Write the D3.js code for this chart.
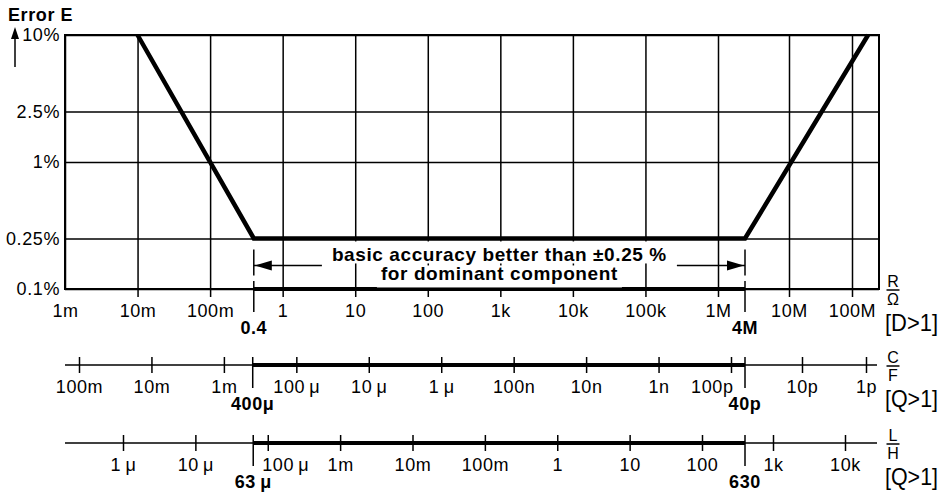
<!DOCTYPE html>
<html>
<head>
<meta charset="utf-8">
<script src="https://cdn.jsdelivr.net/npm/d3@7"></script>
<style>
  body { margin: 0; background: #fff; }
  svg text { font-family: "Liberation Sans", Arial, Helvetica, sans-serif; font-size: 18px; letter-spacing: 0.6px; fill: #000; }
  .bold { font-weight: bold; }
  .tick line { stroke: #000; stroke-width: 1.5; }
</style>
</head>
<body>
<div id="chart"></div>
<script>
// error axis (percent)
var errorTicks = [0.1, 0.25, 1, 2.5, 10];
var errorLabels = ["0.1%", "0.25%", "1%", "2.5%", "10%"];

// resistance axis (ohm)
var rTicks = [1e-3, 1e-2, 1e-1, 1, 10, 100, 1e3, 1e4, 1e5, 1e6, 1e7, 1e8];
var rLabels = ["1m", "10m", "100m", "1", "10", "100", "1k", "10k", "100k", "1M", "10M", "100M"];
var rRange = [0.4, 4e6];
var rRangeLabels = ["0.4", "4M"];

// error curve: R value -> error %
var curveR = [0.01, 0.4, 4e6, 1.8e8];
var curveE = [10, 0.25, 0.25, 10];

// capacitance axis (farad)
var cTicks = [1e-1, 1e-2, 1e-3, 1e-4, 1e-5, 1e-6, 1e-7, 1e-8, 1e-9, 1e-10, 1e-11, 1e-12];
var cLabels = ["100m", "10m", "1m", "100\u2009\u03bc", "10\u2009\u03bc", "1\u2009\u03bc", "100n", "10n", "1n", "100p", "10p", "1p"];
var cRange = [4e-4, 4e-11];
var cRangeLabels = ["400\u03bc", "40p"];

// inductance axis (henry)
var lTicks = [1e-6, 1e-5, 1e-4, 1e-3, 1e-2, 1e-1, 1, 10, 100, 1e3, 1e4];
var lLabels = ["1\u2009\u03bc", "10\u2009\u03bc", "100\u2009\u03bc", "1m", "10m", "100m", "1", "10", "100", "1k", "10k"];
var lRange = [6.3e-5, 630];
var lRangeLabels = ["63\u2009\u03bc", "630"];

var unitTop = ["R", "C", "L"];
var unitBottom = ["\u03a9", "F", "H"];
var unitCond = ["[D>1]", "[Q>1]", "[Q>1]"];

var width = 949, height = 502;
var plotL = 65, plotR = 879, plotT = 35, plotB = 289;
var cAxisY = 365, lAxisY = 443;

var svg = d3.select("#chart")
  .append("svg")
  .attr("width", width)
  .attr("height", height);

// the printed scales get squeezed above the upper limit, so piecewise log scales
var x = d3.scaleLog().domain([1e-3, 1e6, 4e6, 1e7, 1e8]).range([plotL, 718, 745, 789, 852]);
var y = d3.scaleLog().domain([0.1, 10]).range([plotB, plotT]);
var xC = d3.scaleLog().domain([1e-1, 1e-10, 4e-11, 1e-11, 1e-12]).range([79, 731, 745, 802, 866]);
var xL = d3.scaleLog().domain([1e-6, 100, 630, 1e3, 1e4]).range([123, 702, 745, 773, 845]);

// header
svg.append("text")
  .attr("class", "bold")
  .attr("x", 8)
  .attr("y", 21)
  .text("Error E");

svg.append("line")
  .attr("x1", 15).attr("x2", 15)
  .attr("y1", 67).attr("y2", 36)
  .attr("stroke", "#000").attr("stroke-width", 1.5);
svg.append("path")
  .attr("d", "M15,27 L19,39 L11,39 Z")
  .attr("fill", "#000");

// horizontal grid + error labels
svg.append("g")
  .attr("transform", "translate(" + plotL + ",0)")
  .call(d3.axisLeft(y)
    .tickValues(errorTicks)
    .tickFormat(function(d, i) { return errorLabels[i]; })
    .tickSize(-(plotR - plotL))
    .tickSizeOuter(0)
    .tickPadding(5))
  .call(function(g) { g.select(".domain").remove(); })
  .attr("font-size", null)
  .attr("font-family", null);

// vertical grid + R labels
svg.append("g")
  .attr("transform", "translate(0," + plotB + ")")
  .call(d3.axisBottom(x)
    .tickValues(rTicks)
    .tickFormat(function(d, i) { return rLabels[i]; })
    .tickSize(-(plotB - plotT))
    .tickSizeOuter(0))
  .call(function(g) { g.select(".domain").remove(); })
  .call(function(g) {
    g.selectAll(".tick line").attr("y1", function(d, i) { return i === 0 ? 0 : 8; });
    g.selectAll(".tick text").attr("y", 28).attr("dy", null);
  })
  .attr("font-size", null)
  .attr("font-family", null);

// frame
svg.append("rect")
  .attr("x", plotL).attr("y", plotT)
  .attr("width", plotR - plotL).attr("height", plotB - plotT)
  .attr("fill", "none")
  .attr("stroke", "#000")
  .attr("stroke-width", 2);

// range bar on the bottom line
svg.append("line")
  .attr("x1", x(rRange[0])).attr("x2", x(rRange[1]))
  .attr("y1", y(0.1)).attr("y2", y(0.1))
  .attr("stroke", "#000").attr("stroke-width", 4);

// error curve
var curve = curveR.map(function(r, i) { return { r: r, e: curveE[i] }; });
var line = d3.line()
  .x(function(d) { return x(d.r); })
  .y(function(d) { return y(d.e); });

svg.append("path")
  .datum(curve)
  .attr("d", line)
  .attr("fill", "none")
  .attr("stroke", "#000")
  .attr("stroke-width", 4.5);

// annotation between the markers
var annY = y(0.25);
var ann = svg.append("g");
var t1 = ann.append("text")
  .attr("class", "bold")
  .attr("x", (x(rRange[0]) + x(rRange[1])) / 2)
  .attr("y", annY + 23)
  .attr("text-anchor", "middle")
  .style("font-size", "19px")
  .text("basic accuracy better than \u00b10.25 %");
var t2 = ann.append("text")
  .attr("class", "bold")
  .attr("x", (x(rRange[0]) + x(rRange[1])) / 2)
  .attr("y", annY + 42)
  .attr("text-anchor", "middle")
  .style("font-size", "19px")
  .text("for dominant component");

var b1 = t1.node().getBBox(), b2 = t2.node().getBBox();
[b1, b2].forEach(function(b, i) {
  ann.insert("rect", "text")
    .attr("x", b.x - 4).attr("y", b.y + (i === 0 ? -3 : 2))
    .attr("width", b.width + 8).attr("height", b.height + 1)
    .attr("fill", "#fff");
});

var arrowY = annY + 27;
var ax0 = x(rRange[0]), ax1 = x(rRange[1]);
ann.append("line")
  .attr("x1", ax0).attr("x2", b1.x - 10)
  .attr("y1", arrowY).attr("y2", arrowY)
  .attr("stroke", "#000").attr("stroke-width", 1.5);
ann.append("line")
  .attr("x1", b1.x + b1.width + 10).attr("x2", ax1)
  .attr("y1", arrowY).attr("y2", arrowY)
  .attr("stroke", "#000").attr("stroke-width", 1.5);
ann.append("path")
  .attr("d", "M" + (ax0 + 1) + "," + arrowY + " l17,-5 l0,10 Z")
  .attr("fill", "#000");
ann.append("path")
  .attr("d", "M" + (ax1 - 1) + "," + arrowY + " l-17,-5 l0,10 Z")
  .attr("fill", "#000");
[ax0, ax1].forEach(function(px) {
  ann.append("line")
    .attr("x1", px).attr("x2", px)
    .attr("y1", arrowY - 16).attr("y2", arrowY + 10)
    .attr("stroke", "#000").attr("stroke-width", 1.5);
});

// range markers (long ticks + bold limit labels)
function markers(g, scale, range, labels) {
  g.selectAll(".marker")
    .data(range)
    .enter().append("line")
    .attr("class", "marker")
    .attr("x1", function(d) { return scale(d); })
    .attr("x2", function(d) { return scale(d); })
    .attr("y1", -8).attr("y2", 23)
    .attr("stroke", "#000").attr("stroke-width", 1.5);
  g.selectAll(".marker-label")
    .data(range)
    .enter().append("text")
    .attr("class", "marker-label bold")
    .attr("x", function(d) { return scale(d); })
    .attr("y", 45)
    .attr("text-anchor", "middle")
    .text(function(d, i) { return labels[i]; });
}

markers(svg.append("g").attr("transform", "translate(0," + plotB + ")"), x, rRange, rRangeLabels);

// C and L scales
function scaleAxis(scale, axisY, ticks, labels, range, rangeLabels) {
  var g = svg.append("g").attr("transform", "translate(0," + axisY + ")");
  g.append("line")
    .attr("x1", plotL).attr("x2", plotR - 2)
    .attr("stroke", "#000").attr("stroke-width", 1.5);
  g.append("line")
    .attr("x1", scale(range[0])).attr("x2", scale(range[1]))
    .attr("stroke", "#000").attr("stroke-width", 4);
  g.call(d3.axisBottom(scale)
      .tickValues(ticks)
      .tickFormat(function(d, i) { return labels[i]; })
      .tickSize(8)
      .tickSizeOuter(0))
    .attr("font-size", null)
    .attr("font-family", null);
  g.select(".domain").remove();
  g.selectAll(".tick line").attr("y1", -8);
  // labels sitting right next to a range marker are pushed away from it
  g.selectAll(".tick text")
    .attr("y", 28).attr("dy", null)
    .each(function(d) {
      var t = d3.select(this);
      range.forEach(function(m) {
        var gap = scale(m) - scale(d);
        if (Math.abs(gap) < 20) {
          if (gap > 0) t.attr("text-anchor", "end").attr("x", 2);
          else t.attr("text-anchor", "start").attr("x", -6);
        }
      });
    });
  markers(g, scale, range, rangeLabels);
}

scaleAxis(xC, cAxisY, cTicks, cLabels, cRange, cRangeLabels);
scaleAxis(xL, lAxisY, lTicks, lLabels, lRange, lRangeLabels);

// unit labels on the right
var unitY = [plotB, cAxisY, lAxisY];
var units = svg.selectAll(".unit")
  .data(unitY)
  .enter().append("g")
  .attr("class", "unit")
  .attr("transform", function(d) { return "translate(893," + (d + 1) + ")"; });

units.append("text")
  .attr("y", -3)
  .attr("text-anchor", "middle")
  .style("font-size", "16px")
  .style("letter-spacing", "0px")
  .text(function(d, i) { return unitTop[i]; });
units.append("line")
  .attr("x1", -6.5).attr("x2", 6.5)
  .attr("stroke", "#000").attr("stroke-width", 1.5);
units.append("text")
  .attr("y", 15)
  .attr("text-anchor", "middle")
  .style("font-size", "16px")
  .style("letter-spacing", "0px")
  .text(function(d, i) { return unitBottom[i]; });
units.append("text")
  .attr("x", -8)
  .attr("y", 41)
  .style("font-size", "24px")
  .style("letter-spacing", "0px")
  .attr("textLength", 53)
  .attr("lengthAdjust", "spacingAndGlyphs")
  .text(function(d, i) { return unitCond[i]; });
</script>
</body>
</html>
